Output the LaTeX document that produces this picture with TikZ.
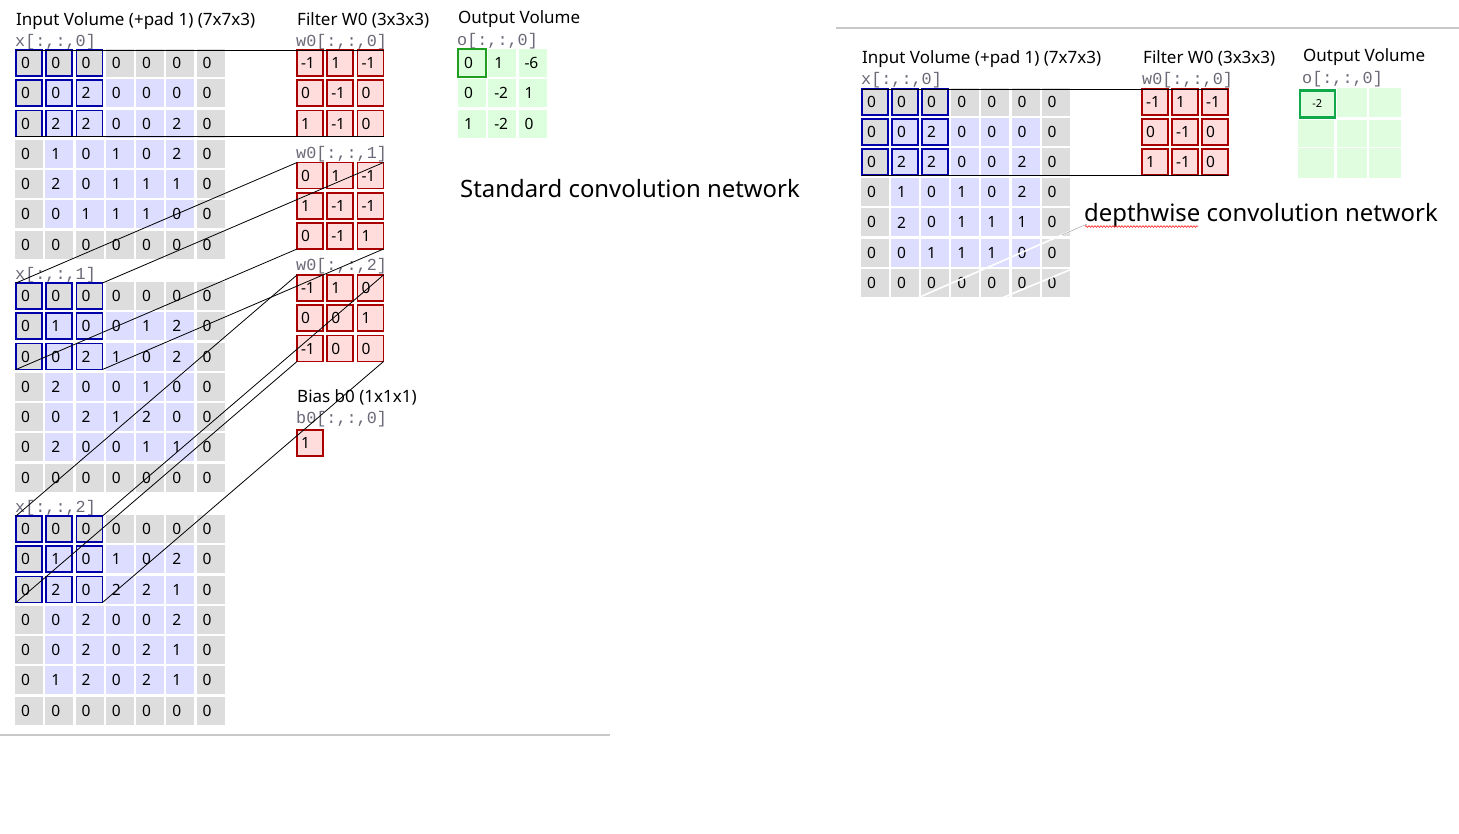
\documentclass[tikz,border=0pt]{standalone}
\usepackage{fontspec}
\setmainfont{Noto Sans}
\newfontfamily\monofam{Liberation Mono}
\usetikzlibrary{decorations.pathmorphing}
\definecolor{padgray}{HTML}{DDDDDD}
\definecolor{inblue}{HTML}{DDDDFF}
\definecolor{hlblue}{HTML}{0000AA}
\definecolor{wred}{HTML}{FFDDDD}
\definecolor{wredd}{HTML}{AA0000}
\definecolor{ogreen}{HTML}{DDFFDD}
\definecolor{ogreenr}{HTML}{E0FDE0}
\definecolor{ogreend}{HTML}{1F9F1F}
\definecolor{ogreendr}{HTML}{10A84A}
\definecolor{lblgray}{HTML}{6A6A78}
\definecolor{rulegray}{HTML}{C8C8C8}
\tikzset{
 cellbase/.style={inner ysep=0pt, outer sep=0pt, text width=16pt, align=left, font=\fontsize{15.5}{15.5}\selectfont, anchor=center},
 cell/.style={cellbase, minimum height=28pt, inner xsep=6pt},
 hlcell/.style={cellbase, minimum height=26pt, inner xsep=5pt, draw=hlblue, line width=1.8pt},
 fcell/.style={cellbase, text width=18pt, minimum height=26pt, inner xsep=4pt, fill=wred, draw=wredd, line width=1.8pt},
 ocell/.style={cellbase, minimum height=28pt, inner xsep=6pt, fill=ogreen},
 title/.style={anchor=base west, inner sep=0pt, font=\fontsize{17}{20}\selectfont},
 lbl/.style={anchor=west, inner sep=0pt, text=lblgray, font=\monofam\fontsize{16.8}{18}\selectfont},
 big/.style={anchor=base west, inner sep=0pt, font=\fontsize{23.9}{28}\selectfont},
 conn/.style={black, line width=0.8pt},
 rulestyle/.style={rulegray, line width=1.2pt},
}
\def\pitch{30.25}
\newcommand\ingrid[4]{%
  \foreach \rw [count=\r from 0] in {#4} {%
    \foreach \v [count=\c from 0] in \rw {%
      \pgfmathtruncatemacro\pd{(\r==0)||(\r==6)||(\c==0)||(\c==6)}%
      \pgfmathtruncatemacro\hl{(\r<3)&&(\c<3)}%
      \ifnum\pd=1 \def\fc{padgray}\else\def\fc{inblue}\fi
      \ifnum\hl=1
        \node[hlcell, fill=\fc] (#1-\r-\c) at ({#2+14+\pitch*\c},{#3+14+\pitch*\r}) {\v};
      \else
        \node[cell, fill=\fc] (#1-\r-\c) at ({#2+14+\pitch*\c},{#3+14+\pitch*\r}) {\v};
      \fi
    }%
  }%
}
\newcommand\fgrid[4]{%
  \foreach \rw [count=\r from 0] in {#4} {%
    \foreach \v [count=\c from 0] in \rw {%
      \node[fcell] (#1-\r-\c) at ({#2+14+\pitch*\c},{#3+14+\pitch*\r}) {\v};
    }%
  }%
}
\begin{document}
\begin{tikzpicture}[x=1pt,y=-1pt]
\useasboundingbox (0,0) rectangle (1459,833);
\fill[white] (0,0) rectangle (1459,833);

% ---------------- left: standard convolution ----------------
\node[title] (tin) at (16,25) {Input Volume (+pad 1) (7x7x3)};
\node[title] (tfi) at (297,25) {Filter W0 (3x3x3)};
\node[title] (tout) at (458,23.5) {Output Volume};

\node[lbl] (lx0) at (15,42) {x[:,:,0]};
\node[lbl] (lx1) at (15,275) {x[:,:,1]};
\node[lbl] (lx2) at (15,508) {x[:,:,2]};
\node[lbl] (lw0) at (296,42) {w0[:,:,0]};
\node[lbl] (lw1) at (296,154) {w0[:,:,1]};
\node[lbl] (lw2) at (296,266) {w0[:,:,2]};
\node[lbl] (lo0) at (457,41) {o[:,:,0]};

\ingrid{x0}{15}{49}{{0,0,0,0,0,0,0},{0,0,2,0,0,0,0},{0,2,2,0,0,2,0},{0,1,0,1,0,2,0},{0,2,0,1,1,1,0},{0,0,1,1,1,0,0},{0,0,0,0,0,0,0}}
\ingrid{x1}{15}{282}{{0,0,0,0,0,0,0},{0,1,0,0,1,2,0},{0,0,2,1,0,2,0},{0,2,0,0,1,0,0},{0,0,2,1,2,0,0},{0,2,0,0,1,1,0},{0,0,0,0,0,0,0}}
\ingrid{x2}{15}{515}{{0,0,0,0,0,0,0},{0,1,0,1,0,2,0},{0,2,0,2,2,1,0},{0,0,2,0,0,2,0},{0,0,2,0,2,1,0},{0,1,2,0,2,1,0},{0,0,0,0,0,0,0}}

\fgrid{f0}{296}{49}{{-1,1,-1},{0,-1,0},{1,-1,0}}
\fgrid{f1}{296}{161.5}{{0,1,-1},{1,-1,-1},{0,-1,1}}
\fgrid{f2}{296}{274}{{-1,1,0},{0,0,1},{-1,0,0}}

\node[title] (tbias) at (297,402) {Bias b0 (1x1x1)};
\node[lbl] (lb0) at (296,419) {b0[:,:,0]};
\node[fcell] (b0) at (310,443) {1};

% output
\foreach \rw [count=\r from 0] in {{0,1,-6},{0,-2,1},{1,-2,0}} {
  \foreach \v [count=\c from 0] in \rw {
    \node[ocell] (o-\r-\c) at ({472+\pitch*\c},{63+\pitch*\r}) {\v};
  }
}
\draw[ogreend, line width=2pt] (o-0-0.north west) rectangle (o-0-0.south east);

% connectors
\foreach \k in {0,1,2} {
  \draw[conn] (x\k-0-0.north west) -- (f\k-0-0.north west);
  \draw[conn] (x\k-0-2.north east) -- (f\k-0-2.north east);
  \draw[conn] (x\k-2-0.south west) -- (f\k-2-0.south west);
  \draw[conn] (x\k-2-2.south east) -- (f\k-2-2.south east);
}

\node[big] (std) at (460,197) {Standard convolution network};

\coordinate (rl1) at (0,735);
\coordinate (rl2) at (610,735);
\draw[rulestyle] (rl1) -- (rl2);

% ---------------- right: depthwise convolution ----------------
\def\pitch{30.1}
\coordinate (rr1) at (836,28);
\coordinate (rr2) at (1459,28);
\draw[rulestyle] (rr1) -- (rr2);

\node[title] (rtin) at (862,63) {Input Volume (+pad 1) (7x7x3)};
\node[title] (rtfi) at (1143,63) {Filter W0 (3x3x3)};
\node[title] (rtout) at (1303,61) {Output Volume};
\node[lbl] (rlx0) at (861,80) {x[:,:,0]};
\node[lbl] (rlw0) at (1142,80) {w0[:,:,0]};
\node[lbl] (rlo0) at (1302,79) {o[:,:,0]};

\ingrid{rx}{861}{88}{{0,0,0,0,0,0,0},{0,0,2,0,0,0,0},{0,2,2,0,0,2,0},{0,1,0,1,0,2,0},{0,2,0,1,1,1,0},{0,0,1,1,1,0,0},{0,0,0,0,0,0,0}}
\fgrid{rf}{1141}{88}{{-1,1,-1},{0,-1,0},{1,-1,0}}

\draw[conn] (rx-0-0.north west) -- (rf-0-0.north west);
\draw[conn] (rx-0-2.north east) -- (rf-0-2.north east);
\draw[conn] (rx-2-0.south west) -- (rf-2-0.south west);
\draw[conn] (rx-2-2.south east) -- (rf-2-2.south east);

% right output (faint)
\node[fill=ogreenr, minimum width=30pt, minimum height=29pt, inner sep=0pt, anchor=north west] (ro01) at (1337,88) {};
\node[fill=ogreenr, minimum width=32pt, minimum height=29pt, inner sep=0pt, anchor=north west] (ro02) at (1369,88) {};
\node[fill=ogreenr, minimum width=36pt, minimum height=27pt, inner sep=0pt, anchor=north west] (ro10) at (1298,120) {};
\node[fill=ogreenr, minimum width=30pt, minimum height=27pt, inner sep=0pt, anchor=north west] (ro11) at (1337,120) {};
\node[fill=ogreenr, minimum width=32pt, minimum height=27pt, inner sep=0pt, anchor=north west] (ro12) at (1369,120) {};
\node[fill=ogreenr, minimum width=36pt, minimum height=30pt, inner sep=0pt, anchor=north west] (ro20) at (1298,148) {};
\node[fill=ogreenr, minimum width=30pt, minimum height=30pt, inner sep=0pt, anchor=north west] (ro21) at (1337,148) {};
\node[fill=ogreenr, minimum width=32pt, minimum height=30pt, inner sep=0pt, anchor=north west] (ro22) at (1369,148) {};
\node[fill=ogreenr, draw=ogreendr, line width=2.5pt, minimum width=35pt, minimum height=27pt, inner sep=0pt, anchor=north west, font=\fontsize{11}{11}\selectfont] (ro00) at (1298.5,89) {-2};

% erased-line artefacts
\coordinate (wa1) at (1087,224);
\coordinate (wa2) at (913,300);
\coordinate (wb1) at (1125,247);
\coordinate (wb2) at (997,300);
\coordinate (ga1) at (1062,235);
\draw[white, line width=1.6pt] (wa1) -- (wa2);
\draw[white, line width=1.6pt] (wb1) -- (wb2);
\draw[gray!70, line width=0.5pt] (wa1) -- (ga1);

\node[big] (dw) at (1084,221) {depthwise convolution network};
\coordinate (sq1) at (1085,226.5);
\coordinate (sq2) at (1198,226.5);
\draw[red, line width=0.5pt, decorate, decoration={snake, amplitude=0.9pt, segment length=3pt}] (sq1) -- (sq2);
\end{tikzpicture}
\end{document}
